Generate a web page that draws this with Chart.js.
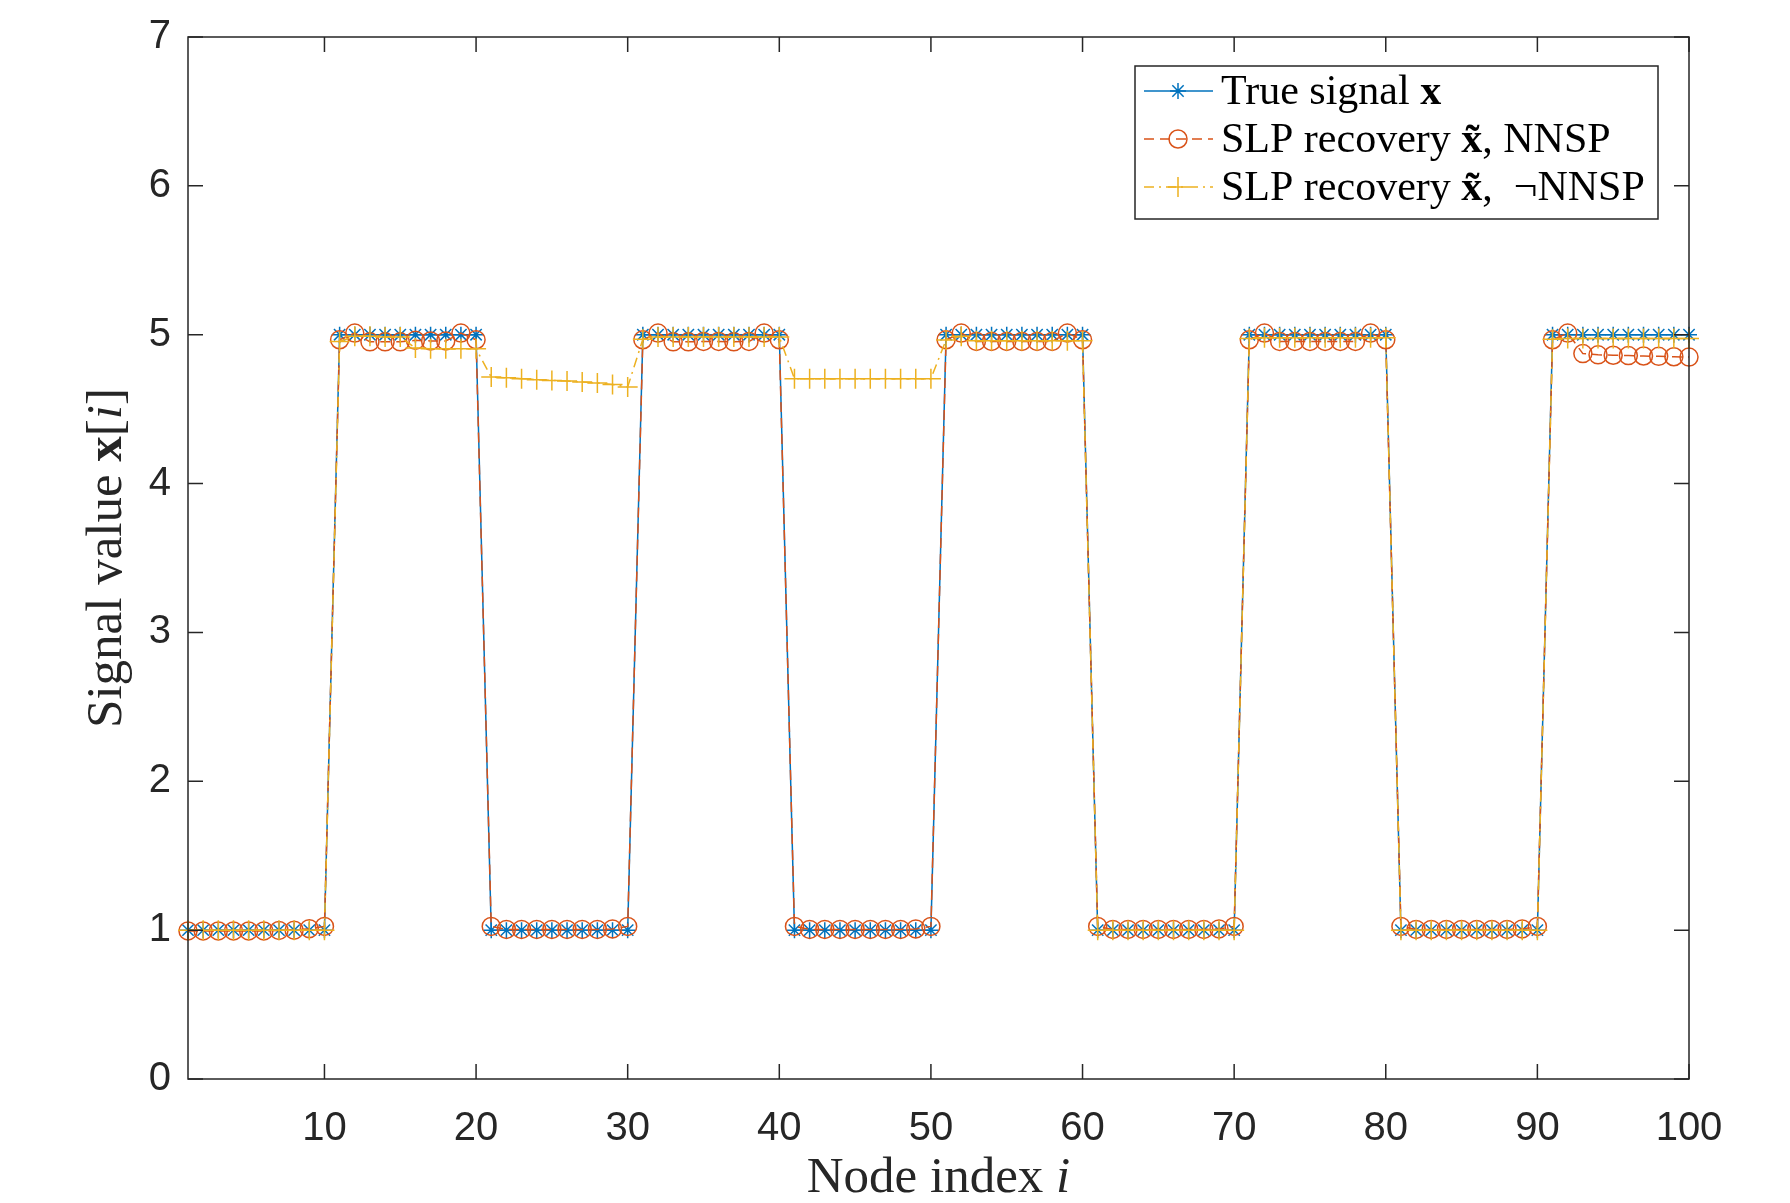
<!DOCTYPE html>
<html>
<head>
<meta charset="utf-8">
<script src="https://cdn.jsdelivr.net/npm/chart.js@4.4.1/dist/chart.umd.min.js"></script>
<style>
  html, body { margin: 0; padding: 0; background: #fff; }
  #wrap { width: 1790px; height: 1203px; position: relative; }
</style>
</head>
<body>
<div id="wrap"><canvas id="signalChart"></canvas></div>
<script>
// node index i = 1..100
const nodeIndex = [
  1,2,3,4,5,6,7,8,9,10, 11,12,13,14,15,16,17,18,19,20,
  21,22,23,24,25,26,27,28,29,30, 31,32,33,34,35,36,37,38,39,40,
  41,42,43,44,45,46,47,48,49,50, 51,52,53,54,55,56,57,58,59,60,
  61,62,63,64,65,66,67,68,69,70, 71,72,73,74,75,76,77,78,79,80,
  81,82,83,84,85,86,87,88,89,90, 91,92,93,94,95,96,97,98,99,100
];

const trueSignal = [
  1,1,1,1,1,1,1,1,1,1, 5,5,5,5,5,5,5,5,5,5,
  1,1,1,1,1,1,1,1,1,1, 5,5,5,5,5,5,5,5,5,5,
  1,1,1,1,1,1,1,1,1,1, 5,5,5,5,5,5,5,5,5,5,
  1,1,1,1,1,1,1,1,1,1, 5,5,5,5,5,5,5,5,5,5,
  1,1,1,1,1,1,1,1,1,1, 5,5,5,5,5,5,5,5,5,5
];

const nnspRecovery = [
  0.995,0.995,0.995,0.995,0.995,0.995,0.998,1.0,1.01,1.025,
  4.966,5.011,4.952,4.952,4.952,4.962,4.958,4.958,5.011,4.966,
  1.025,1.005,1.005,1.005,1.005,1.005,1.005,1.005,1.008,1.025,
  4.966,5.011,4.952,4.952,4.955,4.955,4.952,4.955,5.011,4.966,
  1.025,1.005,1.005,1.005,1.005,1.005,1.005,1.005,1.008,1.025,
  4.966,5.011,4.955,4.955,4.955,4.955,4.955,4.955,5.011,4.966,
  1.025,1.005,1.005,1.005,1.005,1.005,1.005,1.005,1.008,1.025,
  4.966,5.011,4.955,4.955,4.955,4.955,4.955,4.955,5.011,4.966,
  1.025,1.005,1.005,1.005,1.005,1.005,1.005,1.005,1.008,1.025,
  4.966,5.011,4.873,4.865,4.862,4.860,4.857,4.855,4.852,4.850
];

const notNnspRecovery = [
  1.0,1.0,1.0,1.0,1.0,1.0,1.0,1.0,1.0,1.0,
  4.955,4.99,4.99,4.985,4.985,4.91,4.905,4.905,4.905,4.905,
  4.716,4.711,4.705,4.698,4.693,4.689,4.682,4.675,4.666,4.649,
  4.97,4.985,4.985,4.985,4.985,4.985,4.985,4.985,4.985,4.985,
  4.705,4.705,4.705,4.705,4.705,4.705,4.705,4.705,4.705,4.705,
  4.965,4.99,4.96,4.96,4.96,4.96,4.96,4.96,4.96,4.96,
  1.0,1.0,1.0,1.0,1.0,1.0,1.0,1.0,1.0,1.0,
  4.975,4.98,4.98,4.98,4.98,4.98,4.98,4.98,4.98,4.98,
  1.0,1.0,1.0,1.0,1.0,1.0,1.0,1.0,1.0,1.0,
  4.97,4.975,4.975,4.975,4.975,4.975,4.975,4.975,4.975,4.975
];

const xTicks = [10, 20, 30, 40, 50, 60, 70, 80, 90, 100];
const yTicks = [0, 1, 2, 3, 4, 5, 6, 7];

const BLUE = '#0072BD', RED = '#D95319', YELLOW = '#EDB120', AXIS = '#262626';
const SERIF = '"Liberation Serif", "DejaVu Serif", serif';
const SANS = '"Liberation Sans", Arial, sans-serif';

const toPoints = vals => nodeIndex.map((x, i) => ({ x: x, y: vals[i] }));

const datasets = [
  {
    label: 'True signal x',
    data: toPoints(trueSignal),
    borderColor: BLUE, borderWidth: 1.5,
    pointStyle: 'star', pointRadius: 8, pointBorderColor: BLUE, pointBorderWidth: 1.5,
    pointBackgroundColor: BLUE, order: 2, clip: false
  },
  {
    label: 'SLP recovery x̃, NNSP',
    data: toPoints(nnspRecovery),
    borderColor: RED, borderWidth: 1.5, borderDash: [10, 6],
    pointStyle: 'circle', pointRadius: 9, pointBorderColor: RED, pointBorderWidth: 1.5,
    pointBackgroundColor: 'rgba(0,0,0,0)', order: 1, clip: false
  },
  {
    label: 'SLP recovery x̃, ¬NNSP',
    data: toPoints(notNnspRecovery),
    borderColor: YELLOW, borderWidth: 1.5, borderDash: [10, 5, 2, 5],
    pointStyle: 'cross', pointRadius: 10, pointBorderColor: YELLOW, pointBorderWidth: 1.5,
    pointBackgroundColor: YELLOW, order: 0, clip: false
  }
];

// legend text pieces: [text, font style]
const legendRows = [
  [['True signal ', ''], ['x', 'bold ']],
  [['SLP recovery ', ''], ['x\u0303', 'bold '], [', NNSP', '']],
  [['SLP recovery ', ''], ['x\u0303', 'bold '], [',  \u00ACNNSP', '']]
];

function drawRuns(ctx, runs, x, y, size) {
  let cx = x;
  runs.forEach(([t, style]) => {
    ctx.font = style + size + 'px ' + SERIF;
    ctx.fillText(t, cx, y);
    cx += ctx.measureText(t).width;
  });
  return cx - x;
}

function runsWidth(ctx, runs, size) {
  let w = 0;
  runs.forEach(([t, style]) => {
    ctx.font = style + size + 'px ' + SERIF;
    w += ctx.measureText(t).width;
  });
  return w;
}

const matlabAxes = {
  id: 'matlabAxes',
  afterDraw(chart) {
    const ctx = chart.ctx;
    const a = chart.chartArea;
    const xs = chart.scales.x, ys = chart.scales.y;
    ctx.save();
    // box
    ctx.strokeStyle = AXIS;
    ctx.lineWidth = 1.5;
    ctx.setLineDash([]);
    ctx.strokeRect(a.left, a.top, a.right - a.left, a.bottom - a.top);
    // inward ticks on all four sides
    const tl = 15;
    ctx.beginPath();
    xTicks.forEach(v => {
      const px = xs.getPixelForValue(v);
      ctx.moveTo(px, a.bottom); ctx.lineTo(px, a.bottom - tl);
      ctx.moveTo(px, a.top); ctx.lineTo(px, a.top + tl);
    });
    yTicks.forEach(v => {
      const py = ys.getPixelForValue(v);
      ctx.moveTo(a.left, py); ctx.lineTo(a.left + tl, py);
      ctx.moveTo(a.right, py); ctx.lineTo(a.right - tl, py);
    });
    ctx.stroke();

    // axis titles
    ctx.fillStyle = AXIS;
    ctx.textBaseline = 'middle';
    const xRuns = [['Node index ', ''], ['i', 'italic ']];
    const xw = runsWidth(ctx, xRuns, 51);
    drawRuns(ctx, xRuns, (a.left + a.right) / 2 - xw / 2, 1179, 51);

    const yRuns = [['Signal value ', ''], ['x', 'bold '], ['[', ''], ['i', 'italic '], [']', '']];
    const yw = runsWidth(ctx, yRuns, 51);
    ctx.save();
    ctx.translate(108, (a.top + a.bottom) / 2);
    ctx.rotate(-Math.PI / 2);
    drawRuns(ctx, yRuns, -yw / 2, 0, 51);
    ctx.restore();

    // legend
    const lx = 1135, ly = 66, lw = 523, lh = 153;
    ctx.fillStyle = '#fff';
    ctx.fillRect(lx, ly, lw, lh);
    ctx.strokeStyle = AXIS;
    ctx.lineWidth = 1.5;
    ctx.strokeRect(lx, ly, lw, lh);
    const rowY = [91, 139, 187];
    datasets.forEach((ds, i) => {
      const y = rowY[i];
      ctx.save();
      ctx.strokeStyle = ds.borderColor;
      ctx.lineWidth = ds.borderWidth;
      ctx.setLineDash(ds.borderDash || []);
      ctx.beginPath();
      ctx.moveTo(1144, y); ctx.lineTo(1213, y);
      ctx.stroke();
      ctx.setLineDash([]);
      ctx.strokeStyle = ds.pointBorderColor;
      ctx.fillStyle = ds.pointBackgroundColor;
      Chart.helpers.drawPoint(ctx, {
        pointStyle: ds.pointStyle, radius: ds.pointRadius,
        borderWidth: ds.pointBorderWidth, rotation: 0
      }, 1178, y);
      ctx.restore();
      ctx.fillStyle = '#000';
      ctx.textBaseline = 'middle';
      drawRuns(ctx, legendRows[i], 1221, y + 2, 42);
    });
    ctx.restore();
  }
};

new Chart(document.getElementById('signalChart'), {
  type: 'line',
  data: { datasets: datasets },
  options: {
    responsive: true,
    maintainAspectRatio: false,
    animation: false,
    layout: { padding: { top: 37, right: 101, left: 0, bottom: 0 } },
    plugins: { legend: { display: false }, tooltip: { enabled: false } },
    elements: { line: { tension: 0 } },
    scales: {
      x: {
        type: 'linear', min: 1, max: 100,
        grid: { display: false }, border: { display: false },
        afterBuildTicks: s => { s.ticks = xTicks.map(v => ({ value: v })); },
        afterFit: s => { s.height = 124; },
        ticks: { font: { family: SANS, size: 40 }, color: AXIS, padding: 18, maxRotation: 0, autoSkip: false }
      },
      y: {
        type: 'linear', min: 0, max: 7,
        grid: { display: false }, border: { display: false },
        afterBuildTicks: s => { s.ticks = yTicks.map(v => ({ value: v })); },
        afterFit: s => { s.width = 188; },
        ticks: { font: { family: SANS, size: 40 }, color: AXIS, padding: 9 }
      }
    }
  },
  plugins: [matlabAxes]
});
</script>
</body>
</html>
